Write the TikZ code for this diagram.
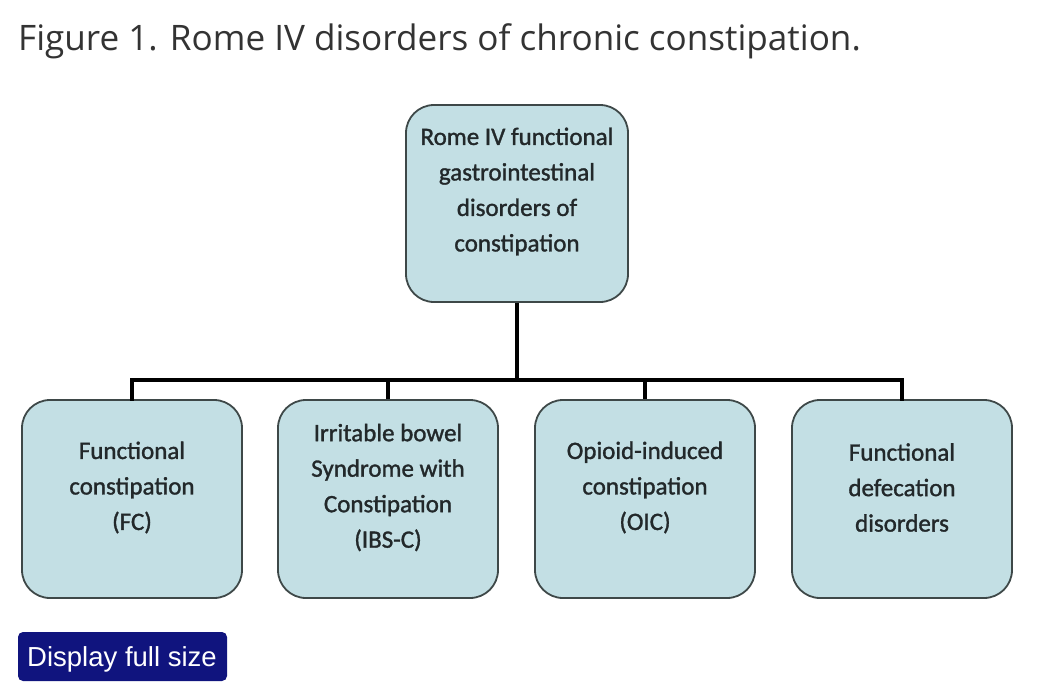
\documentclass[tikz,border=0pt]{standalone}
\usepackage{fontspec}
\setmainfont{Carlito}
\newfontfamily\boxfont[FakeBold=1.3]{Carlito}
\newfontfamily\titlefont{Open Sans}
\newfontfamily\btnfont{Liberation Sans}
\definecolor{boxfill}{HTML}{C3DFE4}
\definecolor{boxline}{HTML}{3E4848}
\definecolor{boxtext}{HTML}{22282A}
\definecolor{titlecol}{HTML}{333333}
\definecolor{navy}{HTML}{10147E}
\tikzset{
  catbox/.style={draw=boxline, line width=1.8pt, fill=boxfill, rounded corners=28pt, inner sep=0pt},
  cattext/.style={text=boxtext, align=center, font=\boxfont\fontsize{25}{35.5}\selectfont, inner sep=0pt},
  conn/.style={draw=black, line width=4pt},
}
\begin{document}
\begin{tikzpicture}[x=1pt,y=-1pt]
\useasboundingbox (0,0) rectangle (1042,686);
\node[anchor=base west, inner sep=0pt, text=titlecol, font=\titlefont\fontsize{35.1}{44}\selectfont] (title) at (18,50) {Figure 1. Rome IV disorders of chronic constipation.};
% boxes
\node[catbox, minimum width=222pt, minimum height=197pt] (top) at (517,203.5) {};
\node[catbox, minimum width=220pt, minimum height=198pt] (b1) at (132,499) {};
\node[catbox, minimum width=220pt, minimum height=198pt] (b2) at (388,499) {};
\node[catbox, minimum width=220pt, minimum height=198pt] (b3) at (645,499) {};
\node[catbox, minimum width=220pt, minimum height=198pt] (b4) at (902,499) {};
% texts
\node[cattext] (ttop) at (517,191.5) {Rome IV functional\\gastrointestinal\\disorders of\\constipation};
\node[cattext] (t1) at (132,487.5) {Functional\\constipation\\(FC)};
\node[cattext] (t2) at (388,487.5) {Irritable bowel\\Syndrome with\\Constipation\\(IBS-C)};
\node[cattext] (t3) at (645,487.5) {Opioid-induced\\constipation\\(OIC)};
\node[cattext] (t4) at (902,487.5) {Functional\\defecation\\disorders};
% connectors
\coordinate (hub) at (517,380);
\coordinate (L) at (132,380);
\coordinate (R) at (902,380);
\draw[conn] (top.south) -- (hub);
\draw[conn, line cap=rect] (b1.north) -- (L) -- (R) -- (b4.north);
\draw[conn] (b2.north) -- (b2.north |- hub);
\draw[conn] (b3.north) -- (b3.north |- hub);
% button
\node[fill=navy, rounded corners=5pt, minimum width=209pt, minimum height=49pt, inner sep=0pt] (btn) at (122.5,656.5) {};
\node[anchor=base, inner sep=0pt, text=white, font=\btnfont\fontsize{27.5}{30}\selectfont] (btntext) at (122,666) {Display full size};
\end{tikzpicture}
\end{document}
